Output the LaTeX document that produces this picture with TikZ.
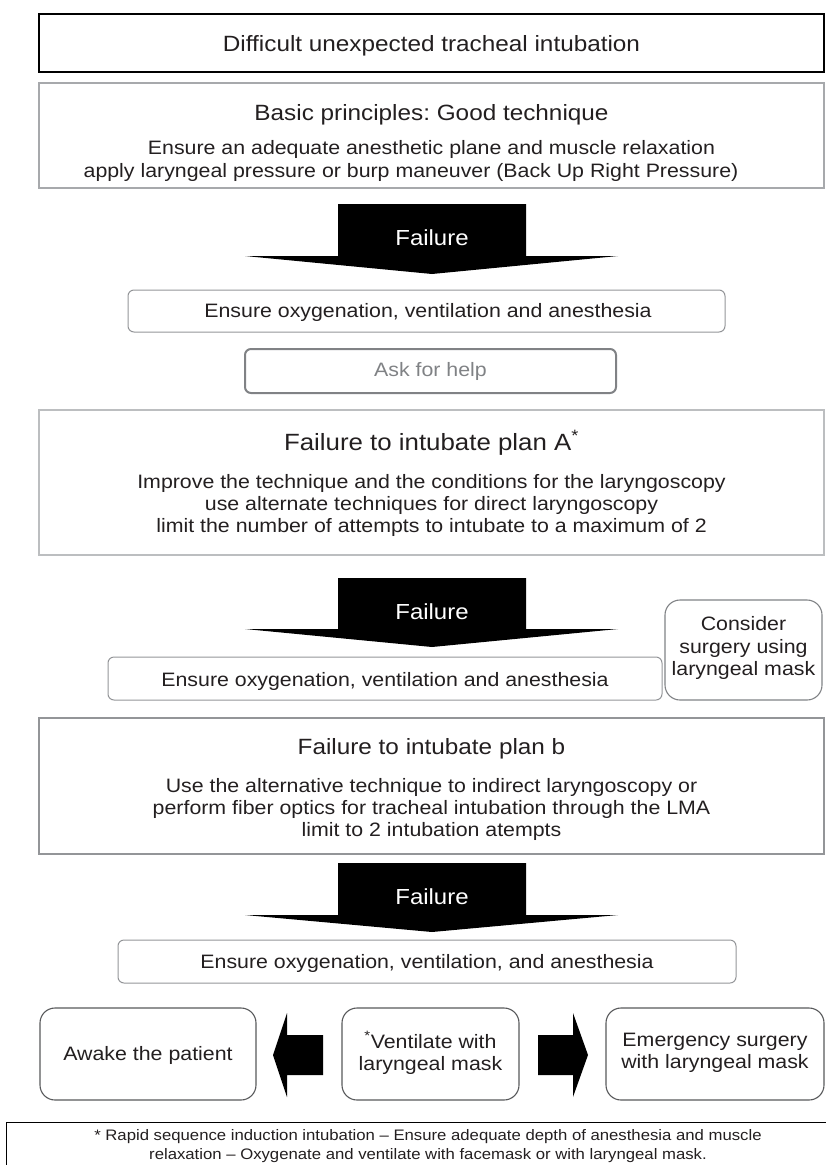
\documentclass[tikz,border=0pt]{standalone}
\usepackage{fontspec}
\setmainfont[FakeStretch=1.1]{Liberation Sans}
\frenchspacing
\definecolor{txt}{HTML}{231F20}
\definecolor{gA}{HTML}{A7A9AC}
\definecolor{gB}{HTML}{939598}
\definecolor{gC}{HTML}{808285}
\definecolor{gD}{HTML}{BCBEC0}
\definecolor{gE}{HTML}{58595B}
\tikzset{
  sqbox/.style={draw, rectangle, inner sep=0pt, line width=1.4pt},
  rbox/.style={draw=gB, rectangle, rounded corners=6pt, inner sep=0pt, line width=1pt},
  bigr/.style={draw=gE, rectangle, rounded corners=15pt, inner sep=0pt, line width=1.1pt},
  body/.style={font=\fontsize{19.4}{22.5}\selectfont, text=txt, align=center, inner sep=0pt},
  head/.style={font=\fontsize{22.1}{24}\selectfont, text=txt, inner sep=0pt},
  headA/.style={font=\fontsize{23.5}{26}\selectfont, text=txt, inner sep=0pt},
  foot/.style={font=\fontsize{15.2}{19}\selectfont, text=txt, align=center, inner sep=0pt},
  fail/.style={font=\fontsize{21.8}{24}\selectfont, text=white, inner sep=0pt},
  blk/.style={fill=black, draw=none},
}
\begin{document}
\begin{tikzpicture}[x=1pt,y=-1pt]
\useasboundingbox (0,0) rectangle (826,1165);
\clip (0,0) rectangle (826,1165);
% title
\node[sqbox, draw=black, minimum width=785pt, minimum height=58pt] (title) at (431.5,43) {};
\node[head] (titletxt) at (431.5,46) {Difficult unexpected tracheal intubation};
% basic principles
\node[sqbox, draw=gA, minimum width=785pt, minimum height=105pt] (basic) at (431.5,135.5) {};
\node[head] (basich) at (431.5,115) {Basic principles: Good technique};
\node[body] (basic1) at (431.5,149) {Ensure an adequate anesthetic plane and muscle relaxation};
\node[body] (basic2) at (411,172) {apply laryngeal pressure or burp maneuver (Back Up Right Pressure)};
% failure arrow 1
\fill[blk] (338,204) -- (526,204) -- (526,256) -- (618,256) -- (432,274) -- (245,256) -- (338,256) -- cycle;
\node[fail] (fail1) at (432,238) {Failure};
% ensure 1
\node[rbox, minimum width=597pt, minimum height=42pt] (ens1) at (426.5,311) {};
\node[body] (ens1t) at (428,312) {Ensure oxygenation, ventilation and anesthesia};
% ask for help
\node[draw=gC, rectangle, rounded corners=6pt, line width=2pt, inner sep=0pt, minimum width=371pt, minimum height=44pt, font=\fontsize{19.4}{22.5}\selectfont, text=gC] (ask) at (430.5,371) {Ask for help};
% plan A
\node[sqbox, draw=gD, minimum width=785pt, minimum height=145pt] (planA) at (431.5,482.5) {};
\node[headA] (planAh) at (431.5,443) {Failure to intubate plan A\textsuperscript{*}};
\node[body] (planA1) at (431.5,483) {Improve the technique and the conditions for the laryngoscopy};
\node[body] (planA2) at (431.5,505) {use alternate techniques for direct laryngoscopy};
\node[body] (planA3) at (431.5,527) {limit the number of attempts to intubate to a maximum of 2};
% failure arrow 2
\fill[blk] (338,578) -- (526,578) -- (526,629) -- (618,629) -- (432,647) -- (245,629) -- (338,629) -- cycle;
\node[fail] (fail2) at (432,612) {Failure};
% ensure 2 and consider
\node[rbox, minimum width=554pt, minimum height=43pt] (ens2) at (385,678.5) {};
\node[body] (ens2t) at (385,681) {Ensure oxygenation, ventilation and anesthesia};
\node[draw=gC, rectangle, rounded corners=15pt, line width=1.1pt, inner sep=0pt, minimum width=157pt, minimum height=100pt] (consider) at (743.5,650) {};
\node[body] (considert) at (743.5,648) {Consider\\surgery using\\laryngeal mask};
% plan b
\node[sqbox, draw=gB, minimum width=785pt, minimum height=136pt] (planB) at (431.5,786) {};
\node[head] (planBh) at (431.5,749) {Failure to intubate plan b};
\node[body] (planB1) at (431.5,787) {Use the alternative technique to indirect laryngoscopy or};
\node[body] (planB2) at (431.5,809) {perform fiber optics for tracheal intubation through the LMA};
\node[body] (planB3) at (431.5,831) {limit to 2 intubation atempts};
% failure arrow 3
\fill[blk] (338,863) -- (526,863) -- (526,915) -- (618,915) -- (432,932) -- (245,915) -- (338,915) -- cycle;
\node[fail] (fail3) at (432,897) {Failure};
% ensure 3
\node[rbox, minimum width=618pt, minimum height=43pt] (ens3) at (427,961.5) {};
\node[body] (ens3t) at (427,963) {Ensure oxygenation, ventilation, and anesthesia};
% bottom row
\node[bigr, minimum width=216pt, minimum height=92pt] (awake) at (148,1054) {};
\node[body] (awaket) at (148,1055) {Awake the patient};
\node[bigr, minimum width=177pt, minimum height=92pt] (vent) at (430.5,1054) {};
\node[body] (ventt) at (430.5,1053) {\textsuperscript{*}Ventilate with\\laryngeal mask};
\node[bigr, minimum width=218pt, minimum height=92pt] (emerg) at (715,1054) {};
\node[body] (emergt) at (715,1053) {Emergency surgery\\with laryngeal mask};
\fill[blk] (323,1035) -- (287,1035) -- (287,1013) -- (273,1055) -- (287,1097) -- (287,1075) -- (323,1075) -- cycle;
\fill[blk] (538,1035) -- (573,1035) -- (573,1013) -- (588,1055) -- (573,1097) -- (573,1075) -- (538,1075) -- cycle;
% footnote
\node[sqbox, draw=black, minimum width=840pt, minimum height=70pt, anchor=north west] (footbox) at (6,1122) {};
\node[foot] (foott) at (428,1146) {* Rapid sequence induction intubation -- Ensure adequate depth of anesthesia and muscle\\relaxation -- Oxygenate and ventilate with facemask or with laryngeal mask.};
\end{tikzpicture}
\end{document}
